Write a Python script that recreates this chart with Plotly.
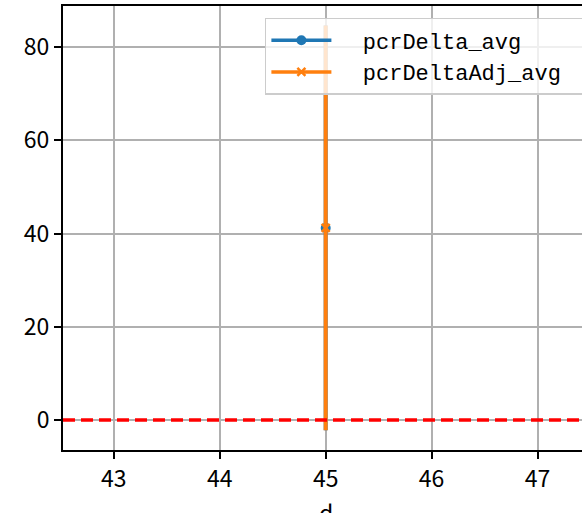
import plotly.graph_objects as go

# Data
d_vals = [45]
pcr_delta_avg = [41.2]
pcr_delta_err = [43.4]
pcr_delta_adj_avg = [41.2]
pcr_delta_adj_err = [43.4]
series_names = ["pcrDelta_avg", "pcrDeltaAdj_avg"]
x_ticks = [43, 44, 45, 46, 47]
y_ticks = [0, 20, 40, 60, 80]
x_label = "d"
ref_line = 0

fig = go.Figure()
fig.add_trace(go.Scatter(
    x=d_vals, y=pcr_delta_avg, name="  " + series_names[0], mode="lines+markers",
    line=dict(color="#1f77b4", width=3.5),
    marker=dict(symbol="circle", size=10, color="#1f77b4"),
    error_y=dict(type="data", array=pcr_delta_err, color="#1f77b4", thickness=4, width=0),
))
fig.add_trace(go.Scatter(
    x=d_vals, y=pcr_delta_adj_avg, name="  " + series_names[1] + "\u00a0\u00a0", mode="lines+markers",
    line=dict(color="#ff7f0e", width=3.5),
    marker=dict(symbol="x-thin", size=8, color="#ff7f0e", line=dict(color="#ff7f0e", width=2.5)),
    error_y=dict(type="data", array=pcr_delta_adj_err, color="#ff7f0e", thickness=4, width=0),
))

fig.add_shape(type="line", xref="paper", x0=0, x1=1, yref="y", y0=ref_line, y1=ref_line,
              line=dict(color="red", width=3.5, dash="12px,6px"), layer="above")

tickfont = dict(family="Noto Sans CJK SC", size=23, color="black")
fig.add_annotation(text=x_label, xref="x", x=45, yref="paper", y=-0.096,
                   xanchor="center", yanchor="top", showarrow=False, font=tickfont)

fig.update_layout(
    width=582, height=513,
    margin=dict(l=63, r=0, t=6, b=63, autoexpand=False),
    plot_bgcolor="white", paper_bgcolor="white",
    showlegend=True,
    legend=dict(
        x=0.389, y=0.973, xanchor="left", yanchor="top",
        bgcolor="rgba(255,255,255,0.8)", bordercolor="#cccccc", borderwidth=1.5,
        font=dict(family="Liberation Mono", size=22, color="black"),
        itemwidth=60, tracegroupgap=4,
    ),
    xaxis=dict(
        range=[42.52, 47.42], tickvals=x_ticks, ticktext=[str(v) for v in x_ticks],
        showgrid=True, gridcolor="#b0b0b0", gridwidth=1.5,
        showline=True, linecolor="black", linewidth=2, mirror=True,
        ticks="outside", ticklen=7, tickwidth=2, tickcolor="black",
        tickfont=tickfont, zeroline=False, automargin=False,
    ),
    yaxis=dict(
        range=[-6.43, 88.8], tickvals=y_ticks, ticktext=[str(v) for v in y_ticks],
        showgrid=True, gridcolor="#b0b0b0", gridwidth=1.5,
        showline=True, linecolor="black", linewidth=2, mirror=True,
        ticks="outside", ticklen=7, tickwidth=2, tickcolor="black",
        tickfont=tickfont, zeroline=False, automargin=False,
    ),
)

fig.write_html("out.html", config={"displayModeBar": False},
               post_script="document.body.style.margin='0';document.body.style.overflow='hidden';")
